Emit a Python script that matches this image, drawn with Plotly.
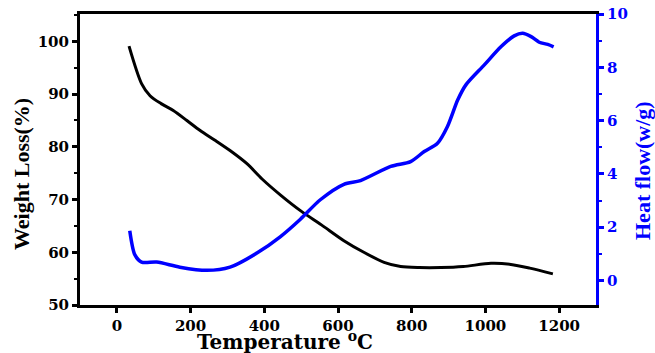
import plotly.graph_objects as go

temp_w = [33, 67, 90, 120, 153, 190, 226, 265, 307, 353, 394, 445, 498, 555, 616, 670, 725, 770, 820, 879, 940, 1015, 1069, 1120, 1183]
weight = [99.1, 92.0, 89.7, 88.2, 86.9, 85.0, 83.1, 81.3, 79.3, 76.8, 73.9, 70.8, 67.9, 65.2, 62.2, 60.0, 58.1, 57.3, 57.1, 57.1, 57.3, 57.9, 57.7, 57.0, 55.9]

temp_h = [35, 49, 67, 108, 171, 244, 307, 380, 444, 498, 552, 616, 661, 743, 797, 834, 870, 897, 925, 947, 997, 1042, 1078, 1101, 1124, 1146, 1169, 1185]
heat = [1.87, 0.96, 0.69, 0.69, 0.50, 0.38, 0.50, 1.03, 1.65, 2.30, 3.03, 3.61, 3.75, 4.28, 4.46, 4.84, 5.15, 5.78, 6.78, 7.34, 8.09, 8.77, 9.18, 9.28, 9.15, 8.94, 8.86, 8.77]

x_ticks = [0, 200, 400, 600, 800, 1000, 1200]
left_ticks = [50, 60, 70, 80, 90, 100]
right_ticks = [0, 2, 4, 6, 8, 10]

SERIF = "Liberation Serif"
TICKF = "DejaVu Serif"
BLUE = "#0000FF"

fig = go.Figure()
fig.add_trace(go.Scatter(x=temp_w, y=weight, mode="lines",
                         line=dict(color="black", width=3, shape="spline", smoothing=0.8),
                         showlegend=False))
fig.add_trace(go.Scatter(x=temp_h, y=heat, mode="lines", yaxis="y2",
                         line=dict(color=BLUE, width=3.5, shape="spline", smoothing=0.8),
                         showlegend=False))

def bold(v):
    return [f"<b>{t}</b>" for t in v]

fig.update_layout(
    width=655, height=353,
    margin=dict(l=80, r=59, t=14, b=48),
    paper_bgcolor="white", plot_bgcolor="white",
    font=dict(family=SERIF, size=13, color="black"),
    xaxis=dict(range=[-100, 1300], tickvals=x_ticks, ticktext=bold(x_ticks), ticks="outside",
               ticklen=5, tickwidth=3, tickcolor="black", showline=True, linecolor="black",
               linewidth=3, mirror=True, showgrid=False, zeroline=False, automargin=False,
               tickfont=dict(family=TICKF, size=15, color="black")),
    yaxis=dict(range=[50, 105.2], tickvals=left_ticks, ticktext=bold(left_ticks), ticks="outside",
               ticklen=5, tickwidth=3, tickcolor="black", showline=True, linecolor="black",
               linewidth=3, showgrid=False, zeroline=False, automargin=False,
               minor=dict(tickvals=[55, 65, 75, 85, 95, 105], ticks="outside", ticklen=3,
                          tickwidth=2, tickcolor="black"),
               tickfont=dict(family=TICKF, size=15, color="black")),
    yaxis2=dict(range=[-0.92, 10], tickvals=right_ticks, ticktext=bold(right_ticks),
                overlaying="y", side="right", ticks="outside", ticklen=5, tickwidth=3,
                tickcolor=BLUE, showline=True, linecolor=BLUE, linewidth=3, showgrid=False,
                zeroline=False, automargin=False,
                minor=dict(tickvals=[1, 3, 5, 7, 9], ticks="outside", ticklen=3, tickwidth=2,
                           tickcolor=BLUE),
                tickfont=dict(family=TICKF, size=15, color=BLUE)),
)

W, H = 655, 353
l, r, t, b = 80, 59, 14, 48
pw, ph = W - l - r, H - t - b

def px_ann(text, x, y, size, color, family, angle=0, xa="center", ya="middle"):
    fig.add_annotation(text=text, x=(x - l) / pw, y=1 - (y - t) / ph, xref="paper", yref="paper",
                       showarrow=False, textangle=angle, xanchor=xa, yanchor=ya, borderpad=0,
                       font=dict(family=family, size=size, color=color))

px_ann("<b>Weight Loss(%)</b>", 21, 174, 22, "black", SERIF, angle=-90)
px_ann("<b>Heat flow(w/g)</b>", 642, 171, 22, BLUE, SERIF, angle=-90)
px_ann("<b>Temperature <sup>o</sup>C</b>", 285, 341, 20, "black", TICKF)

fig.write_html("out.html", config={"displayModeBar": False},
               post_script="document.body.style.margin='0';document.body.style.overflow='hidden';")
